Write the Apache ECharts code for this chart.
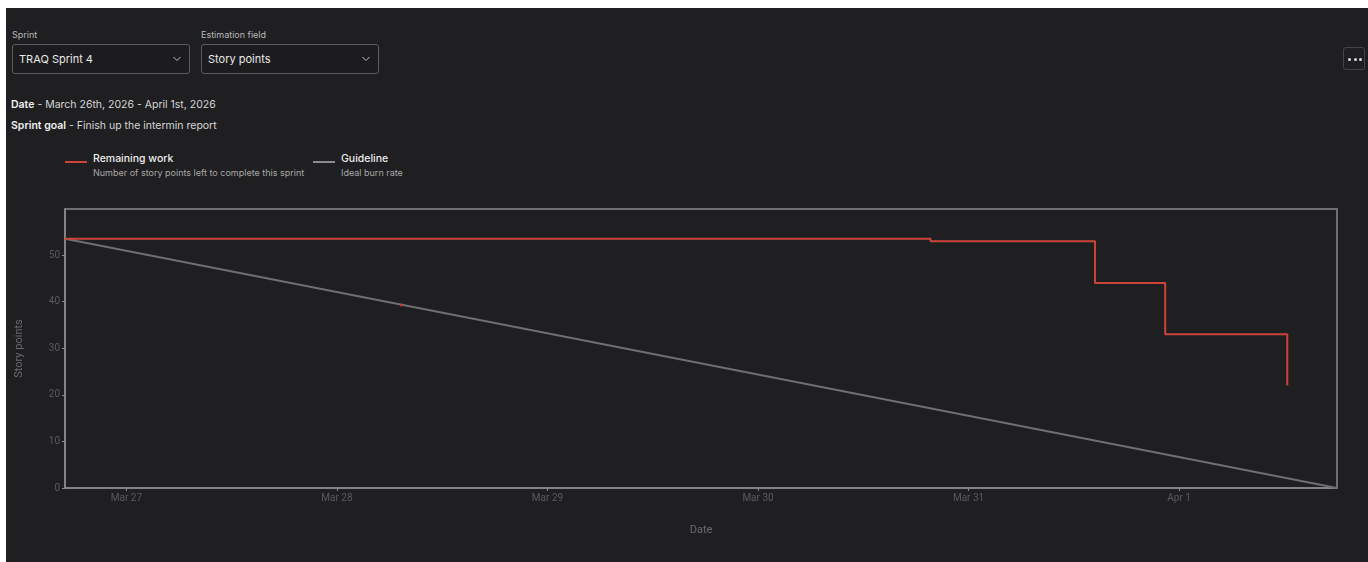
<!DOCTYPE html>
<html>
<head>
<meta charset="utf-8">
<title>Sprint burndown</title>
<script src="https://cdn.jsdelivr.net/npm/echarts@6/dist/echarts.min.js"></script>
<style>
  html, body { margin: 0; padding: 0; background: #ffffff; }
  body { width: 1368px; height: 562px; position: relative; overflow: hidden;
         font-family: Inter, "Noto Sans", Roboto, sans-serif; }
  #panel { position: absolute; left: 6px; top: 8px; right: 0; bottom: 0; background: #1f1f21; }
  .abs { position: absolute; white-space: nowrap; }
  .field-label { font-size: 9px; color: #b9b9b9; }
  .select { position: absolute; box-sizing: border-box; height: 30px; border: 1px solid #5c5c5e;
            border-radius: 3px; background: #1c1c1e; color: #e8e8e8; font-size: 11px;
            line-height: 28px; padding-left: 6px; }
  .select svg { position: absolute; right: 8px; top: 11px; }
  .info { font-size: 10.5px; color: #d6d6d6; }
  .info b { color: #f0f0f0; font-weight: 600; }
  .more { position: absolute; left: 1343px; top: 47px; width: 22px; height: 23px; box-sizing: border-box;
          border: 1px solid #444446; border-radius: 3px; }
  .more i { position: absolute; top: 10px; width: 3px; height: 3px; border-radius: 50%; background: #e0e0e0; }
  .leg-line { position: absolute; height: 2px; width: 22px; }
  .leg-title { font-size: 10.5px; color: #ececec; font-weight: 500; }
  .leg-sub { font-size: 9px; color: #a8a8a8; }
  #chart { position: absolute; left: 0; top: 0; width: 1368px; height: 562px; }
</style>
</head>
<body>
<div id="panel"></div>

<div class="abs field-label" style="left:12px;top:29px;">Sprint</div>
<div class="select" style="left:12px;top:44px;width:178px;">TRAQ Sprint 4
  <svg width="8" height="6" viewBox="0 0 8 6"><polyline points="0.5,1 4,4.5 7.5,1" fill="none" stroke="#bdbdbd" stroke-width="1"/></svg>
</div>
<div class="abs field-label" style="left:201px;top:29px;">Estimation field</div>
<div class="select" style="left:201px;top:44px;width:178px;">Story points
  <svg width="8" height="6" viewBox="0 0 8 6"><polyline points="0.5,1 4,4.5 7.5,1" fill="none" stroke="#bdbdbd" stroke-width="1"/></svg>
</div>
<div class="more"><i style="left:4px"></i><i style="left:9.5px"></i><i style="left:15px"></i></div>

<div class="abs info" style="left:11px;top:98px;"><b>Date</b> - March 26th, 2026 - April 1st, 2026</div>
<div class="abs info" style="left:11px;top:119px;"><b>Sprint goal</b> - Finish up the intermin report</div>

<div class="leg-line" style="left:65px;top:161px;background:#cc4438;"></div>
<div class="abs leg-title" style="left:93px;top:152px;">Remaining work</div>
<div class="abs leg-sub" style="left:93px;top:167px;">Number of story points left to complete this sprint</div>
<div class="leg-line" style="left:313px;top:161px;background:#8a8a8c;"></div>
<div class="abs leg-title" style="left:341px;top:152px;">Guideline</div>
<div class="abs leg-sub" style="left:341px;top:167px;">Ideal burn rate</div>

<div id="chart"></div>

<script>
// Sprint window (UTC)
const sprintStart = '2026-03-26T17:00:00Z';
const sprintEnd = '2026-04-01T18:00:00Z';

// Remaining work: story points left after each change
const remainingTimes = [
  '2026-03-26T17:00:00Z',
  '2026-03-30T19:40:00Z',
  '2026-03-31T14:25:00Z',
  '2026-03-31T22:25:00Z',
  '2026-04-01T12:20:00Z'
];
const remainingPoints = [53.5, 53, 44, 33, 22];

// Guideline: ideal burn from full scope to zero
const guidelineTimes = [sprintStart, sprintEnd];
const guidelinePoints = [53.5, 0];

// Single event marker sitting on the guideline
const markerTimes = ['2026-03-28T07:20:00Z'];
const markerPoints = [39.3];

// Y axis labels
const yTickLabels = [0, 10, 20, 30, 40, 50];
const monthNames = ['Jan','Feb','Mar','Apr','May','Jun','Jul','Aug','Sep','Oct','Nov','Dec'];

const toPairs = (times, values) => times.map((t, i) => [Date.parse(t), values[i]]);

const chart = echarts.init(document.getElementById('chart'), null, { renderer: 'canvas' });

const axisGrey = '#8a8a8c';
const labelGrey = '#5a5a5c';

chart.setOption({
  animation: false,
  useUTC: true,
  backgroundColor: 'transparent',
  textStyle: { fontFamily: 'Roboto, "Noto Sans", sans-serif' },
  grid: {
    left: 65, right: 31, top: 209, bottom: 74,
    show: true, borderColor: axisGrey, borderWidth: 1.5, backgroundColor: 'transparent'
  },
  xAxis: {
    type: 'time',
    min: Date.parse(sprintStart),
    max: Date.parse(sprintEnd),
    minInterval: 86400000,
    maxInterval: 86400000,
    name: 'Date',
    nameLocation: 'middle',
    nameGap: 37,
    nameTextStyle: { color: '#6a6a6c', fontSize: 11 },
    axisLine: { show: true, lineStyle: { color: axisGrey, width: 1.5 } },
    axisTick: { show: true, length: 3, lineStyle: { color: axisGrey } },
    splitLine: { show: false },
    axisLabel: {
      color: labelGrey, fontSize: 10, margin: 5,
      formatter: (v) => {
        const d = new Date(v);
        if (d.getUTCHours() !== 0 || d.getUTCMinutes() !== 0) return '';
        return monthNames[d.getUTCMonth()] + ' ' + d.getUTCDate();
      }
    }
  },
  yAxis: {
    type: 'value',
    min: 0,
    max: 59.9,
    interval: 10,
    name: 'Story points',
    nameLocation: 'middle',
    nameGap: 40,
    nameTextStyle: { color: '#6a6a6c', fontSize: 11 },
    axisLine: { show: true, lineStyle: { color: axisGrey, width: 1.5 } },
    axisTick: { show: true, length: 3, lineStyle: { color: axisGrey }, customValues: yTickLabels },
    splitLine: { show: false },
    axisLabel: {
      color: labelGrey, fontSize: 10, margin: 5,
      customValues: yTickLabels,
      formatter: (v) => (yTickLabels.indexOf(v) >= 0 ? String(v) : '')
    }
  },
  series: [
    {
      name: 'Guideline',
      type: 'line',
      data: toPairs(guidelineTimes, guidelinePoints),
      showSymbol: false,
      lineStyle: { color: '#6f6f71', width: 2 },
      z: 2
    },
    {
      name: 'Remaining work',
      type: 'line',
      step: 'end',
      data: toPairs(remainingTimes, remainingPoints),
      showSymbol: false,
      lineStyle: { color: '#cc4438', width: 2 },
      z: 3
    },
    {
      name: 'Marker',
      type: 'scatter',
      data: toPairs(markerTimes, markerPoints),
      symbolSize: 3,
      itemStyle: { color: '#e0302a' },
      z: 4
    }
  ]
});
</script>
</body>
</html>
